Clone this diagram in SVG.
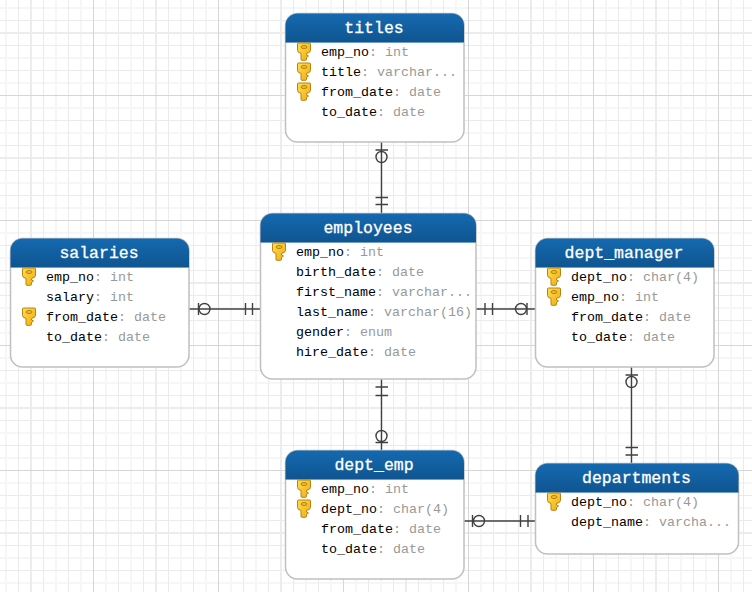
<svg xmlns="http://www.w3.org/2000/svg" width="752" height="592" viewBox="0 0 752 592">
<style>
.card{fill:#fff;stroke:#c0c0c0;stroke-width:1.5}
.title{font:16.5px "Liberation Mono",monospace;fill:#fff;stroke:#fff;stroke-width:.3;text-anchor:middle}
.row{font:13.33px "Liberation Mono",monospace;fill:#000}
.row tspan{fill:#999}
.link{fill:none;stroke:#404040;stroke-width:1.4}
.rule{stroke:#6f9fc8;stroke-width:1}
</style>
<defs>
<linearGradient id="head" x1="0" y1="0" x2="0" y2="1"><stop offset="0" stop-color="#1569b0"/><stop offset="1" stop-color="#0f5590"/></linearGradient>
<linearGradient id="gold" x1="0" y1="0" x2="1" y2="1"><stop offset="0" stop-color="#ffdf50"/><stop offset="1" stop-color="#eeaa10"/></linearGradient>
<!-- repeating sheet grid, one 125px tile -->
<pattern id="grid" width="125" height="125" patternUnits="userSpaceOnUse">
<path d="M6 0V125M56 0V125M81 0V125M106 0V125M0 8H125M0 58H125M0 83H125M0 108H125" fill="none" stroke="#f6f6f6" stroke-width="2"/>
<path d="M18.500 0V125M43.500 0V125M68.500 0V125M118.500 0V125M0 20.500H125M0 45.500H125M0 70.500H125M0 120.500H125" fill="none" stroke="#ebebeb" stroke-width="1"/>
<path d="M31 0V125M0 33H125" fill="none" stroke="#ececec" stroke-width="2"/>
<path d="M93.500 0V125M0 95.500H125" fill="none" stroke="#d6d6d6" stroke-width="1"/>
</pattern>
<g id="key">
<path d="M0.500 1.500Q0.500 0.500 1.500 0.500H12.500Q13.500 0.500 13.500 1.500V8Q13.500 10 9.500 11V12.500L11.500 13.500L9.500 15V17Q9.500 17.800 8.500 17.800H5Q4 17.800 4 17V11Q0.500 10 0.500 8Z" fill="url(#gold)" stroke="#b88210"/>
<ellipse cx="7" cy="4.500" rx="3" ry="1.500" fill="#f0bc30" stroke="#b88210"/>
</g>
<path id="hdr" d="M0 29V12A12 12 0 0 1 12 0H166.500A12 12 0 0 1 178.500 12V29Z"/>
</defs>
<rect width="752" height="592" fill="#fff"/>
<rect width="752" height="592" fill="url(#grid)"/>

<g id="connectors">
<g class="link">
<path d="M381.500 142V213"/><path d="M375.500 150H388M375.500 197.500H388M375.500 204.500H388"/><circle cx="381.500" cy="157" r="5.500"/>
<path d="M189 309H260"/><path d="M198.500 303V315M245.500 303V315M252.500 303V315"/><circle cx="204.500" cy="309" r="5.500"/>
<path d="M476 309H535"/><path d="M485 303V315M492.500 303V315M527 303V315"/><circle cx="521" cy="309" r="5.500"/>
<path d="M381.500 379V450"/><path d="M375.500 387H388M375.500 395.500H388M375.500 442.500H388"/><circle cx="381.500" cy="436" r="5.500"/>
<path d="M631.500 367V463"/><path d="M625.500 375H638M625.500 447.500H638M625.500 455H638"/><circle cx="631.500" cy="382" r="5.500"/>
<path d="M464 521H535"/><path d="M472.500 515V527M520.500 515V527M528 515V527"/><circle cx="479" cy="521" r="5.500"/>
</g>
</g>

<g id="titles" transform="translate(285.500 13.500)">
<rect class="card" width="178.500" height="128.500" rx="12"/><use href="#hdr" fill="url(#head)"/><path class="rule" d="M0 29H178.500"/>
<text class="title" x="88.500" y="19">titles</text>
<use href="#key" x="11.500" y="29"/><use href="#key" x="11.500" y="49"/><use href="#key" x="11.500" y="69"/>
<text class="row" x="35.500" y="42">emp_no<tspan>: int</tspan></text>
<text class="row" x="35.500" y="62">title<tspan>: varchar...</tspan></text>
<text class="row" x="35.500" y="82">from_date<tspan>: date</tspan></text>
<text class="row" x="35.500" y="102">to_date<tspan>: date</tspan></text>
</g>

<g id="employees" transform="translate(260.500 213.500)">
<rect class="card" width="215.500" height="165.500" rx="12"/><path d="M0 29V12A12 12 0 0 1 12 0H203.500A12 12 0 0 1 215.500 12V29Z" fill="url(#head)"/><path class="rule" d="M0 29H215.500"/>
<text class="title" x="107.500" y="19">employees</text>
<use href="#key" x="11.500" y="29"/>
<text class="row" x="35.500" y="42">emp_no<tspan>: int</tspan></text>
<text class="row" x="35.500" y="62">birth_date<tspan>: date</tspan></text>
<text class="row" x="35.500" y="82">first_name<tspan>: varchar...</tspan></text>
<text class="row" x="35.500" y="102">last_name<tspan>: varchar(16)</tspan></text>
<text class="row" x="35.500" y="122">gender<tspan>: enum</tspan></text>
<text class="row" x="35.500" y="142">hire_date<tspan>: date</tspan></text>
</g>

<g id="salaries" transform="translate(10.500 238.500)">
<rect class="card" width="178.500" height="128.500" rx="12"/><use href="#hdr" fill="url(#head)"/><path class="rule" d="M0 29H178.500"/>
<text class="title" x="88.500" y="19">salaries</text>
<use href="#key" x="11.500" y="29"/><use href="#key" x="11.500" y="69"/>
<text class="row" x="35.500" y="42">emp_no<tspan>: int</tspan></text>
<text class="row" x="35.500" y="62">salary<tspan>: int</tspan></text>
<text class="row" x="35.500" y="82">from_date<tspan>: date</tspan></text>
<text class="row" x="35.500" y="102">to_date<tspan>: date</tspan></text>
</g>

<g id="dept_manager" transform="translate(535.500 238.500)">
<rect class="card" width="178.500" height="128.500" rx="12"/><use href="#hdr" fill="url(#head)"/><path class="rule" d="M0 29H178.500"/>
<text class="title" x="88.500" y="19">dept_manager</text>
<use href="#key" x="11.500" y="29"/><use href="#key" x="11.500" y="49"/>
<text class="row" x="35.500" y="42">dept_no<tspan>: char(4)</tspan></text>
<text class="row" x="35.500" y="62">emp_no<tspan>: int</tspan></text>
<text class="row" x="35.500" y="82">from_date<tspan>: date</tspan></text>
<text class="row" x="35.500" y="102">to_date<tspan>: date</tspan></text>
</g>

<g id="dept_emp" transform="translate(285.500 450.500)">
<rect class="card" width="178.500" height="128.500" rx="12"/><use href="#hdr" fill="url(#head)"/><path class="rule" d="M0 29H178.500"/>
<text class="title" x="88.500" y="19">dept_emp</text>
<use href="#key" x="11.500" y="29"/><use href="#key" x="11.500" y="49"/>
<text class="row" x="35.500" y="42">emp_no<tspan>: int</tspan></text>
<text class="row" x="35.500" y="62">dept_no<tspan>: char(4)</tspan></text>
<text class="row" x="35.500" y="82">from_date<tspan>: date</tspan></text>
<text class="row" x="35.500" y="102">to_date<tspan>: date</tspan></text>
</g>

<g id="departments" transform="translate(535.500 463.500)">
<rect class="card" width="203" height="90.500" rx="12"/><path d="M0 29V12A12 12 0 0 1 12 0H191A12 12 0 0 1 203 12V29Z" fill="url(#head)"/><path class="rule" d="M0 29H203"/>
<text class="title" x="101" y="19">departments</text>
<use href="#key" x="11.500" y="29"/>
<text class="row" x="35.500" y="42">dept_no<tspan>: char(4)</tspan></text>
<text class="row" x="35.500" y="62">dept_name<tspan>: varcha...</tspan></text>
</g>
</svg>
